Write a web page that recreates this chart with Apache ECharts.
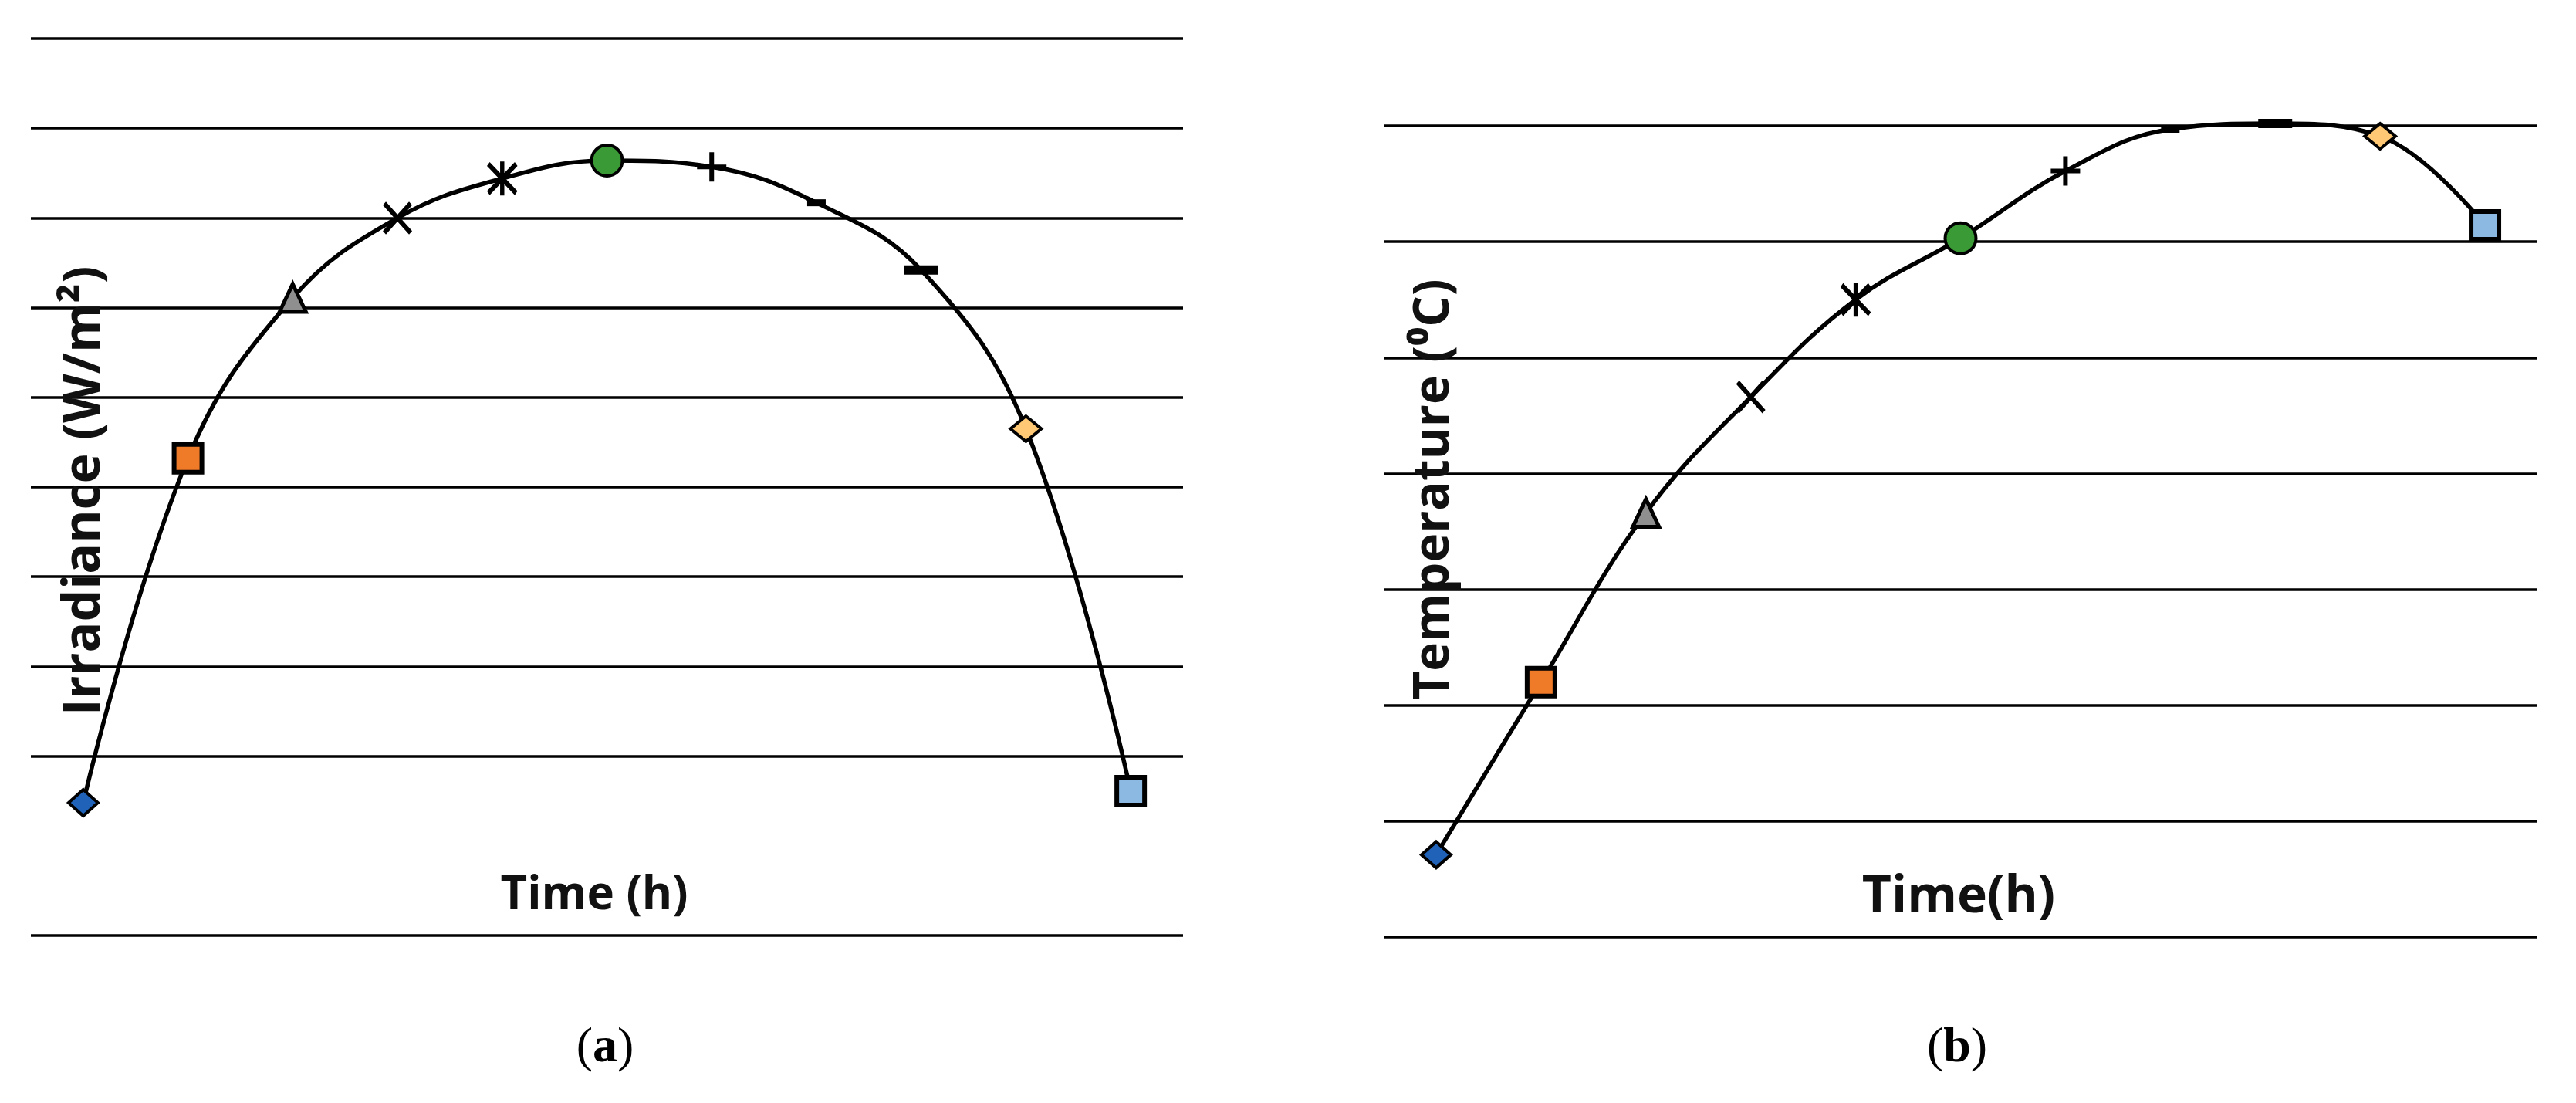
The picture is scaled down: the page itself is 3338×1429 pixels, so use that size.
<!DOCTYPE html>
<html>
<head>
<meta charset="utf-8">
<script src="https://cdn.jsdelivr.net/npm/echarts@6/dist/echarts.min.js"></script>
<style>
  html, body { margin: 0; padding: 0; background: #fff; }
  #main { width: 3338px; height: 1429px; }
</style>
</head>
<body>
<div id="main"></div>
<script>
// ---- data (in gridline units) ----
const timeSteps = ['1', '2', '3', '4', '5', '6', '7', '8', '9', '10', '11'];
const irradiance = [1.48, 5.32, 7.11, 8.00, 8.44, 8.64, 8.57, 8.17, 7.42, 5.65, 1.61];
const temperature = [0.71, 2.20, 3.66, 4.66, 5.50, 6.03, 6.61, 6.97, 7.02, 6.91, 6.14];
const irradianceTicks = [0, 10, 1];   // min, max, step (no labels shown)
const temperatureTicks = [0, 7, 1];

// ---- marker styles (one per time step) ----
const markerStyles = [
  { symbol: 'diamond', size: [38, 34], color: '#1f62b8', border: 4 },
  { symbol: 'rect', size: 36, color: '#ef7a28', border: 6 },
  { symbol: 'triangle', size: [34, 36], color: '#8f8f8f', border: 5 },
  { symbol: 'path://M0,0L10,10M10,0L0,10', size: [34, 38], color: '#000', border: 6 },
  { symbol: 'path://M0,1L10,13M10,1L0,13M5,0L5,14', size: [36, 44], color: '#000', border: 6 },
  { symbol: 'circle', size: 40, color: '#3a9a35', border: 4 },
  { symbol: 'path://M5,0L5,10M0,5L10,5', size: 38, color: '#000', border: 6 },
  { symbol: 'rect', size: [24, 9], color: '#000', border: 0 },
  { symbol: 'rect', size: [44, 12], color: '#000', border: 0 },
  { symbol: 'diamond', size: [40, 33], color: '#ffc874', border: 4 },
  { symbol: 'rect', size: 36, color: '#8cb9e2', border: 6 }
];

function buildData(values) {
  return values.map((v, i) => {
    const m = markerStyles[i];
    return {
      value: v,
      symbol: m.symbol,
      symbolSize: m.size,
      itemStyle: { color: m.color, borderColor: '#000', borderWidth: m.border }
    };
  });
}

// left chart: the gridline just above the bottom one is absent
const leftGridColors = [];
for (let i = 0; i <= 10; i++) leftGridColors.push(i === 1 ? 'rgba(0,0,0,0)' : '#000');

const hiddenAxis = {
  axisLine: { show: false }, axisTick: { show: false }, axisLabel: { show: false }
};

const chart = echarts.init(document.getElementById('main'));
function titleStyle(text, size) {
  return { text: text, align: 'center', verticalAlign: 'middle',
    fontFamily: 'Open Sans', fontWeight: 'bold', fontSize: size, fill: '#111' };
}
function panelLabel(letter) {
  return { text: '({b|' + letter + '})', align: 'center', verticalAlign: 'middle',
    fontFamily: 'Liberation Serif', fontSize: 64, fill: '#000',
    rich: { b: { fontFamily: 'Liberation Serif', fontWeight: 'bold', fontSize: 64, fill: '#000' } } };
}

chart.setOption({
  backgroundColor: '#fff',
  animation: false,
  grid: [
    { left: 40, top: 50, width: 1493, height: 1162 },
    { left: 1793, top: 163, width: 1495, height: 1051 }
  ],
  xAxis: [
    Object.assign({ type: 'category', gridIndex: 0, data: timeSteps, boundaryGap: true, splitLine: { show: false } }, hiddenAxis),
    Object.assign({ type: 'category', gridIndex: 1, data: timeSteps, boundaryGap: true, splitLine: { show: false } }, hiddenAxis)
  ],
  yAxis: [
    Object.assign({
      type: 'value', gridIndex: 0,
      min: irradianceTicks[0], max: irradianceTicks[1], interval: irradianceTicks[2],
      splitLine: { show: true, lineStyle: { color: leftGridColors, width: 3.5 } }
    }, hiddenAxis),
    Object.assign({
      type: 'value', gridIndex: 1,
      min: temperatureTicks[0], max: temperatureTicks[1], interval: temperatureTicks[2],
      splitLine: { show: true, lineStyle: { color: '#000', width: 3.5 } }
    }, hiddenAxis)
  ],
  series: [
    {
      type: 'line', xAxisIndex: 0, yAxisIndex: 0,
      data: buildData(irradiance),
      smooth: 0.4, clip: false, z: 5,
      lineStyle: { color: '#000', width: 5.5 }
    },
    {
      type: 'line', xAxisIndex: 1, yAxisIndex: 1,
      data: buildData(temperature),
      smooth: 0.4, clip: false, z: 5,
      lineStyle: { color: '#000', width: 5.5 }
    }
  ],
  graphic: [
    { type: 'text', x: 110, y: 636, rotation: Math.PI / 2, z: 10, style: titleStyle('Irradiance (W/m²)', 66) },
    { type: 'text', x: 770, y: 1161, z: 10, style: titleStyle('Time (h)', 60) },
    { type: 'text', x: 1859, y: 634, rotation: Math.PI / 2, z: 10, style: titleStyle('Temperature (⁰C)', 64) },
    { type: 'text', x: 2538, y: 1163, z: 10, style: titleStyle('Time(h)', 66) },
    { type: 'text', x: 784, y: 1358, z: 10, style: panelLabel('a') },
    { type: 'text', x: 2536, y: 1358, z: 10, style: panelLabel('b') }
  ]
});
</script>
</body>
</html>
